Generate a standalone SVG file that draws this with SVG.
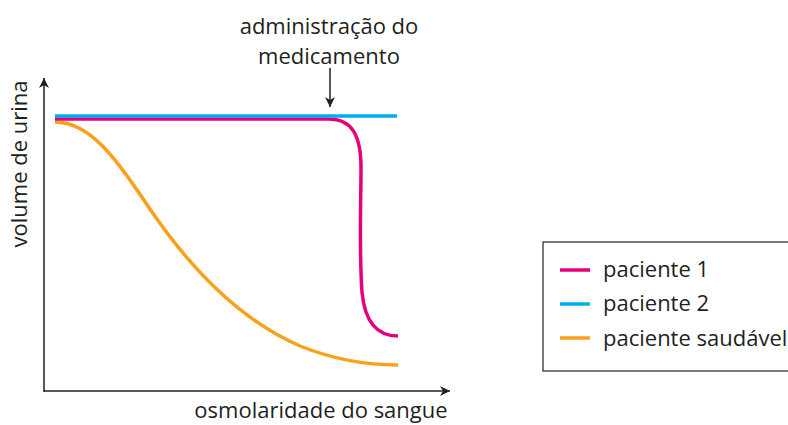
<svg xmlns="http://www.w3.org/2000/svg" width="788" height="425" viewBox="0 0 788 425">
<defs>
<marker id="ah" viewBox="0 0 10 10" refX="10" refY="5" markerWidth="10" markerHeight="10" markerUnits="userSpaceOnUse" orient="auto">
<path d="M0,0 L10,5 L0,10 L3,5 Z" fill="#231f20"/>
</marker>
</defs>
<style>
text{font-family:"Open Sans","Noto Sans","Liberation Sans",sans-serif;font-size:22px;fill:#231f20}
.ax{stroke:#231f20;stroke-width:1.5;fill:none}
.c{fill:none;stroke-width:3.5;stroke-linecap:butt}
.p1{stroke:#e6007e}
.p2{stroke:#00aeef}
.ps{stroke:#f9a11b}
</style>
<rect width="788" height="425" fill="#fff"/>
<g id="axes">
<line class="ax" x1="44" y1="392" x2="44" y2="78" marker-end="url(#ah)"/>
<line class="ax" x1="44" y1="391" x2="450" y2="391" marker-end="url(#ah)"/>
<text x="0" y="0" transform="translate(27,164) rotate(-90)" text-anchor="middle">volume de urina</text>
<text x="321" y="418" text-anchor="middle">osmolaridade do sangue</text>
</g>
<g id="annotation">
<text x="329" y="34" text-anchor="middle">administração do</text>
<text x="329" y="64" text-anchor="middle">medicamento</text>
<line class="ax" x1="330" y1="68" x2="330" y2="107" marker-end="url(#ah)"/>
</g>
<g id="connectors">
<path id="healthy" class="c ps" d="M55,122 C92,122 118,162 152,212 C192,270 240,320 300,346 C335,360 365,365 398,365"/>
<path id="patient1" class="c p1" d="M55,119 L328,119 C352,119 361,135 361,168 C361,200 359,250 362,292 C365,325 380,336 398,336"/>
<path id="patient2" class="c p2" d="M55,116 L397,116"/>
</g>
<g id="legend">
<rect x="543" y="242" width="250" height="129" fill="none" stroke="#231f20" stroke-width="1.2"/>
<line class="c p1" x1="560" y1="270" x2="590" y2="270"/>
<line class="c p2" x1="560" y1="304" x2="590" y2="304"/>
<line class="c ps" x1="560" y1="338" x2="590" y2="338"/>
<text x="603" y="277">paciente 1</text>
<text x="603" y="311">paciente 2</text>
<text x="603" y="346">paciente saudável</text>
</g>
</svg>
